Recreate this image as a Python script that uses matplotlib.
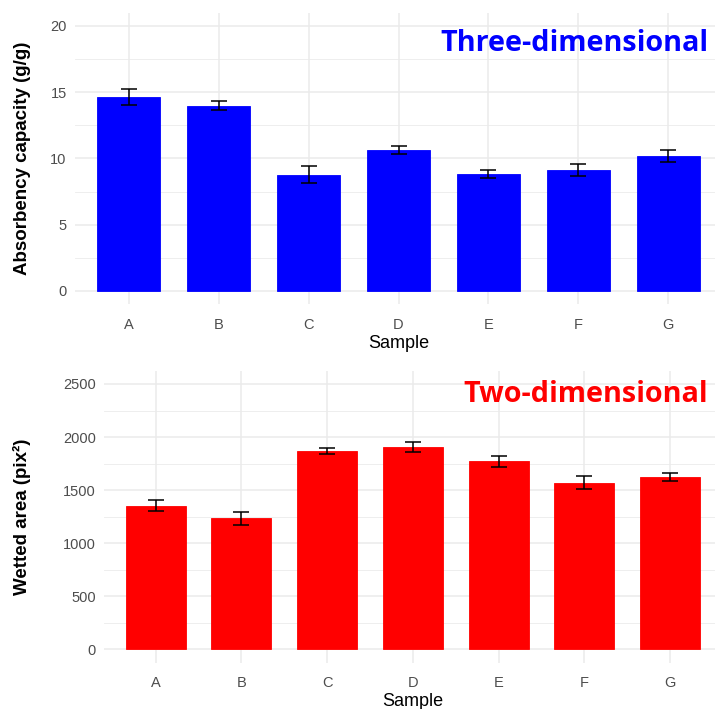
import numpy as np
import matplotlib
matplotlib.use("Agg")
from matplotlib import pyplot as plt
from matplotlib.ticker import MultipleLocator
from matplotlib.transforms import blended_transform_factory

# samples
samples = ["A", "B", "C", "D", "E", "F", "G"]

# absorbency capacity (g/g), mean and error
absorb_mean = [14.67, 13.99, 8.78, 10.64, 8.85, 9.13, 10.19]
absorb_err = [0.60, 0.34, 0.62, 0.31, 0.30, 0.47, 0.46]

# wetted area (pix^2), mean and error
wet_mean = [1355, 1234, 1866, 1902, 1770, 1568, 1625]
wet_err = [53, 58, 30, 47, 50, 62, 38]

plt.rcParams['font.family'] = ['Liberation Sans', 'DejaVu Sans']

W, H = 715, 709
fig = plt.figure(figsize=(W / 100, H / 100), dpi=100)

def px_axes(left, top, right, bottom):
    return fig.add_axes([left / W, 1 - bottom / H, (right - left) / W, (bottom - top) / H])

def style(ax, ymax, step):
    x = np.arange(len(samples))
    ax.set_xlim(-0.6, len(samples) - 0.4)
    ax.set_ylim(-0.05 * ymax, 1.05 * ymax)
    ax.set_xticks(x)
    ax.set_xticklabels(samples)
    ax.yaxis.set_major_locator(MultipleLocator(step))
    ax.yaxis.set_minor_locator(MultipleLocator(step / 2))
    for s in ax.spines.values():
        s.set_visible(False)
    ax.tick_params(axis='both', which='both', length=0, labelsize=10.5, labelcolor='#4D4D4D')
    ax.tick_params(axis='x', pad=10)
    ax.tick_params(axis='y', pad=6)
    ax.grid(True, which='major', color='#EBEBEB', linewidth=1.1)
    ax.grid(True, which='minor', axis='y', color='#EBEBEB', linewidth=0.6)
    ax.set_axisbelow(True)
    ax.set_xlabel("Sample", fontsize=13, color='black', labelpad=2)
    return x

def draw(ax, mean, err, color, ymax, step, ylabel, title, title_y):
    x = style(ax, ymax, step)
    ax.bar(x, mean, width=0.7, color=color, edgecolor=color, linewidth=0.6)
    ax.errorbar(x, mean, yerr=err, fmt='none', ecolor='black', elinewidth=1.1,
                capsize=6, capthick=1.1)
    ax.set_ylabel(ylabel, fontsize=13.5, fontweight='bold')
    # keep both y labels at the same distance from the figure edge
    ax.yaxis.set_label_coords(31 / W, 0.5,
                              transform=blended_transform_factory(fig.transFigure, ax.transAxes))
    ax.text(0.979, title_y, title, transform=ax.transAxes, ha='right', va='center',
            fontsize=20.7, fontweight='bold', color=color,
            family=['Open Sans', 'DejaVu Sans'])

# top panel: three-dimensional
ax1 = px_axes(75, 12.75, 722, 304.25)
draw(ax1, absorb_mean, absorb_err, '#0000FF', 20, 5,
     "Absorbency capacity (g/g)", "Three-dimensional", 0.895)

# bottom panel: two-dimensional
ax2 = px_axes(104.3, 370.7, 721.4, 662.6)
draw(ax2, wet_mean, wet_err, '#FF0000', 2500, 500,
     "Wetted area (pix²)", "Two-dimensional", 0.92)

fig.savefig("out.png", dpi=100)
